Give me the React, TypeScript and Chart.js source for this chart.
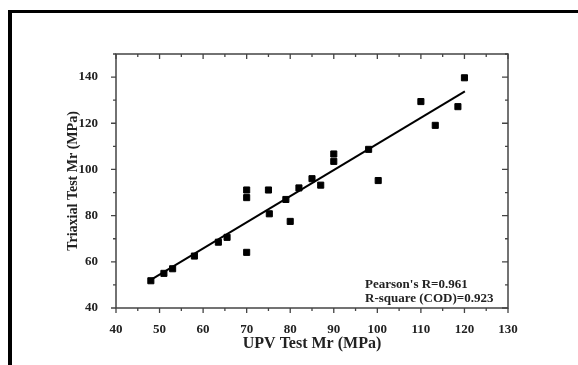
import React, { useEffect, useRef } from "react";
import { Chart, registerables } from "chart.js";

Chart.register(...registerables);

const upvMr = [48, 51, 53, 58, 63.5, 65.5, 70, 70, 70, 75, 75.2, 79, 80, 82, 85, 87, 90, 90, 98, 100.2, 110, 113.3, 118.5, 120];
const triaxialMr = [51.8, 55, 57, 62.5, 68.5, 70.6, 91.1, 87.8, 64.1, 91.1, 80.8, 87, 77.5, 92, 96, 93.2, 106.7, 103.5, 108.7, 95.2, 129.4, 119.1, 127.2, 139.7];
const fitX = [47.5, 120.1];
const fitY = [51.6, 133.8];
const xTicks = [40, 50, 60, 70, 80, 90, 100, 110, 120, 130];
const xMinor = [45, 55, 65, 75, 85, 95, 105, 115, 125];
const yTicks = [40, 60, 80, 100, 120, 140];
const yMinor = [50, 70, 90, 110, 130, 150];
const xTitle = "UPV Test Mr (MPa)";
const yTitle = "Triaxial Test Mr (MPa)";
const statLines = ["Pearson's R=0.961", "R-square (COD)=0.923"];

const SERIF = "'Liberation Serif', 'Times New Roman', serif";

const framePlugin = {
  id: "framePlugin",
  afterDraw(chart: any) {
    const { ctx, chartArea } = chart;
    const xs = chart.scales.x;
    const ys = chart.scales.y;
    const { left, right, top, bottom } = chartArea;
    ctx.save();
    ctx.strokeStyle = "#444";
    ctx.lineWidth = 1.5;
    ctx.strokeRect(left, top, right - left, bottom - top);
    ctx.lineWidth = 1.3;
    ctx.beginPath();
    const major = 5;
    const minor = 3;
    xTicks.forEach((v) => {
      const px = xs.getPixelForValue(v);
      ctx.moveTo(px, bottom);
      ctx.lineTo(px, bottom + major);
      ctx.moveTo(px, top);
      ctx.lineTo(px, top + major);
    });
    xMinor.forEach((v) => {
      const px = xs.getPixelForValue(v);
      ctx.moveTo(px, bottom);
      ctx.lineTo(px, bottom + minor);
      ctx.moveTo(px, top);
      ctx.lineTo(px, top + minor);
    });
    yTicks.forEach((v) => {
      const py = ys.getPixelForValue(v);
      ctx.moveTo(left, py);
      ctx.lineTo(left - major, py);
      ctx.moveTo(right, py);
      ctx.lineTo(right - 6, py);
    });
    yMinor.forEach((v) => {
      const py = ys.getPixelForValue(v);
      ctx.moveTo(left, py);
      ctx.lineTo(left - minor, py);
      ctx.moveTo(right, py);
      ctx.lineTo(right - minor, py);
    });
    ctx.stroke();

    ctx.fillStyle = "#222";
    ctx.font = `bold 16px ${SERIF}`;
    ctx.textAlign = "center";
    ctx.textBaseline = "middle";
    ctx.fillText(xTitle, (left + right) / 2, 344);

    ctx.save();
    ctx.translate(73, (top + bottom) / 2);
    ctx.rotate(-Math.PI / 2);
    ctx.font = `bold 14px ${SERIF}`;
    ctx.fillText(yTitle, 0, 0);
    ctx.restore();

    ctx.font = `bold 13px ${SERIF}`;
    ctx.textAlign = "left";
    statLines.forEach((s, i) => {
      ctx.fillText(s, 365, 285 + i * 14);
    });
    ctx.restore();
  },
};

export default function App() {
  const ref = useRef<HTMLCanvasElement>(null);
  useEffect(() => {
    if (!ref.current) return;
    const chart = new Chart(ref.current, {
      type: "scatter",
      data: {
        datasets: [
          {
            type: "scatter",
            label: "Data",
            data: upvMr.map((x, i) => ({ x, y: triaxialMr[i] })),
            pointStyle: "rect",
            pointRadius: 4.3,
            backgroundColor: "#000",
            borderColor: "#000",
            borderWidth: 1,
          },
          {
            type: "line",
            label: "Fit",
            data: fitX.map((x, i) => ({ x, y: fitY[i] })),
            borderColor: "#000",
            borderWidth: 2,
            pointRadius: 0,
            fill: false,
          } as any,
        ],
      },
      options: {
        animation: false,
        responsive: false,
        devicePixelRatio: 1,
        layout: { padding: { top: 54, right: 70, bottom: 0, left: 0 } },
        plugins: { legend: { display: false }, tooltip: { enabled: false } },
        scales: {
          x: {
            type: "linear",
            min: 40,
            max: 130,
            grid: { display: false },
            border: { display: false },
            afterBuildTicks: (s: any) => {
              s.ticks = xTicks.map((v) => ({ value: v }));
            },
            afterFit: (s: any) => {
              s.height = 57;
            },
            ticks: {
              color: "#222",
              padding: 6,
              maxRotation: 0,
              font: { family: SERIF, size: 13, weight: "bold" },
            },
          },
          y: {
            type: "linear",
            min: 40,
            max: 150,
            grid: { display: false },
            border: { display: false },
            afterBuildTicks: (s: any) => {
              s.ticks = yTicks.map((v) => ({ value: v }));
            },
            afterFit: (s: any) => {
              s.width = 116;
            },
            ticks: {
              color: "#222",
              padding: 10,
              font: { family: SERIF, size: 13, weight: "bold" },
            },
          },
        },
      },
      plugins: [framePlugin],
    });
    return () => chart.destroy();
  }, []);

  return (
    <div style={{ position: "fixed", left: 0, top: 0, width: 578, height: 365, overflow: "hidden", background: "#fff" }}>
      <div
        style={{
          position: "absolute",
          left: 8,
          top: 10,
          width: 600,
          height: 400,
          borderLeft: "4px solid #000",
          borderTop: "3px solid #000",
        }}
      />
      <canvas ref={ref} width={578} height={365} style={{ position: "absolute", left: 0, top: 0 }} />
    </div>
  );
}
